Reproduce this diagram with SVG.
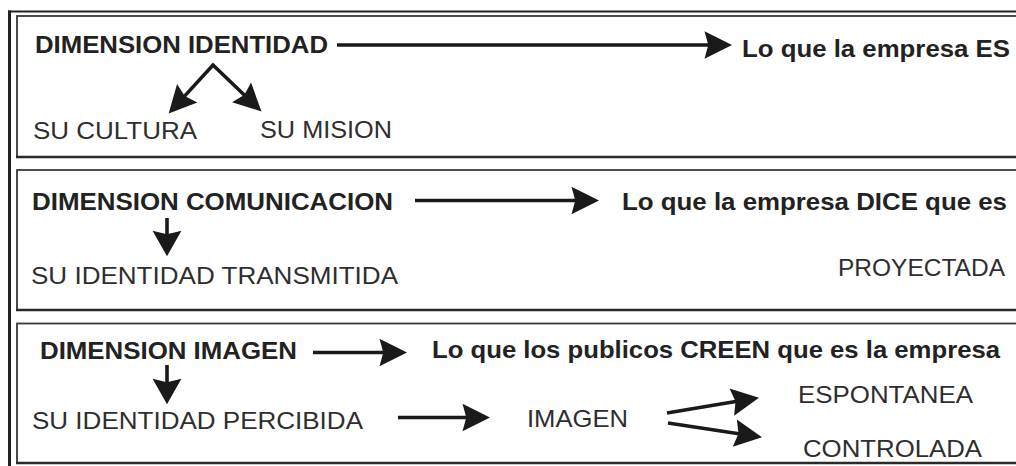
<svg xmlns="http://www.w3.org/2000/svg" width="1016" height="466" viewBox="0 0 1016 466">
<defs>
<style>
.b{font-family:"Liberation Sans",Arial,sans-serif;font-weight:bold;font-size:24px;fill:#222}
.r{font-family:"Liberation Sans",Arial,sans-serif;font-size:24px;fill:#2e2e2e}
.box{fill:none;stroke:#3a3a3a;stroke-width:1.8}
.bot{stroke:#2a2a2a;stroke-width:2.6}
.c{fill:none;stroke:#1a1a1a;stroke-width:3.6;stroke-linejoin:miter}
</style>
<marker id="ah" markerUnits="userSpaceOnUse" markerWidth="30" markerHeight="30" refX="14" refY="0" viewBox="0 -12 24 24" orient="auto-start-reverse" overflow="visible">
<path d="M0,-11 L22,0 L0,11 L3,0 Z" fill="#1a1a1a"/>
</marker>
<marker id="ahw" markerUnits="userSpaceOnUse" markerWidth="30" markerHeight="30" refX="14" refY="0" viewBox="0 -13 24 26" orient="auto" overflow="visible">
<path d="M0,-12.5 L22,0 L0,12.5 L3,0 Z" fill="#1a1a1a"/>
</marker>
</defs>
<rect width="1016" height="466" fill="#fff"/>
<g id="frame">
<line x1="8" y1="11.5" x2="1016" y2="11.5" stroke="#222" stroke-width="1.8"/>
<line x1="9.5" y1="10.5" x2="9.5" y2="466" stroke="#222" stroke-width="3"/>
<rect class="box" x="17" y="16" width="1010" height="141"/>
<line class="bot" x1="16" y1="157" x2="1016" y2="157"/>
<rect class="box" x="17" y="170" width="1010" height="140"/>
<line class="bot" x1="16" y1="310" x2="1016" y2="310"/>
<rect class="box" x="17" y="323.5" width="1010" height="139.5"/>
<line class="bot" x1="16" y1="463" x2="1016" y2="463"/>
</g>
<g id="connectors" marker-end="url(#ah)">
<path class="c" d="M337,45 L722,45"/>
<path class="c" d="M175.4,106.1 L213,65 L254.2,104.5" marker-start="url(#ah)"/>
<path class="c" d="M415,200.5 L589,200.5"/>
<path class="c" d="M167,218 L167,247" marker-end="url(#ahw)"/>
<path class="c" d="M313,352.5 L397,352.5"/>
<path class="c" d="M167,365 L167,395" marker-end="url(#ahw)"/>
<path class="c" d="M398,417.5 L480,417.5"/>
<path class="c" d="M667,413 L749.1,399.3"/>
<path class="c" d="M668,423 L752.1,435.8"/>
</g>
<g id="dim-identidad"><text class="b" x="35" y="53" textLength="293" lengthAdjust="spacingAndGlyphs">DIMENSION IDENTIDAD</text></g>
<g id="es"><text class="b" x="742" y="56.5" textLength="268" lengthAdjust="spacingAndGlyphs">Lo que la empresa ES</text></g>
<g id="cultura"><text class="r" x="33" y="139" textLength="164" lengthAdjust="spacingAndGlyphs">SU CULTURA</text></g>
<g id="mision"><text class="r" x="260" y="137.5" textLength="132" lengthAdjust="spacingAndGlyphs">SU MISION</text></g>
<g id="dim-comunicacion"><text class="b" x="32" y="210" textLength="361" lengthAdjust="spacingAndGlyphs">DIMENSION COMUNICACION</text></g>
<g id="dice"><text class="b" x="622" y="210" textLength="385" lengthAdjust="spacingAndGlyphs">Lo que la empresa DICE que es</text></g>
<g id="transmitida"><text class="r" x="31" y="284" textLength="367" lengthAdjust="spacingAndGlyphs">SU IDENTIDAD TRANSMITIDA</text></g>
<g id="proyectada"><text class="r" x="838" y="276" textLength="167" lengthAdjust="spacingAndGlyphs">PROYECTADA</text></g>
<g id="dim-imagen"><text class="b" x="40" y="358.5" textLength="257" lengthAdjust="spacingAndGlyphs">DIMENSION IMAGEN</text></g>
<g id="creen"><text class="b" x="432" y="357.5" textLength="568" lengthAdjust="spacingAndGlyphs">Lo que los publicos CREEN que es la empresa</text></g>
<g id="percibida"><text class="r" x="32" y="428.5" textLength="331" lengthAdjust="spacingAndGlyphs">SU IDENTIDAD PERCIBIDA</text></g>
<g id="imagen"><text class="r" x="527" y="427" textLength="101" lengthAdjust="spacingAndGlyphs">IMAGEN</text></g>
<g id="espontanea"><text class="r" x="798" y="403" textLength="175" lengthAdjust="spacingAndGlyphs">ESPONTANEA</text></g>
<g id="controlada"><text class="r" x="803" y="456.5" textLength="179" lengthAdjust="spacingAndGlyphs">CONTROLADA</text></g>
</svg>
